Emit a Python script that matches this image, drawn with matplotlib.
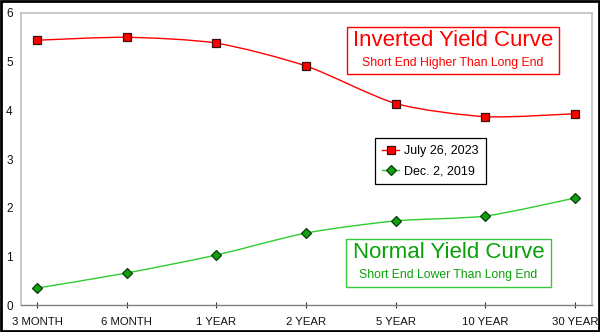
import matplotlib
matplotlib.use("Agg")
import matplotlib.pyplot as plt
from matplotlib.path import Path
from matplotlib.patches import PathPatch, Rectangle
import numpy as np

plt.rcParams['font.family'] = ['Liberation Sans', 'DejaVu Sans']

maturities = ['3 MONTH', '6 MONTH', '1 YEAR', '2 YEAR', '5 YEAR', '10 YEAR', '30 YEAR']
jul_2023 = [5.44, 5.50, 5.38, 4.91, 4.14, 3.87, 3.93]
dec_2019 = [0.35, 0.66, 1.03, 1.48, 1.73, 1.83, 2.20]

RED = '#ff0000'
GREEN_LINE = '#2fcc2f'
GREEN_TEXT = '#0aa00a'


def smooth_path(xs, ys, k=8.0):
    # Catmull-Rom style segments as cubic Bezier pieces (k sets the tension)
    pts = np.column_stack([xs, ys]).astype(float)
    verts = [pts[0]]
    codes = [Path.MOVETO]
    n = len(pts)
    for i in range(n - 1):
        p0 = pts[i - 1] if i > 0 else pts[i]
        p1 = pts[i]
        p2 = pts[i + 1]
        p3 = pts[i + 2] if i + 2 < n else pts[i + 1]
        c1 = p1 + (p2 - p0) / k
        c2 = p2 - (p3 - p1) / k
        verts += [c1, c2, p2]
        codes += [Path.CURVE4] * 3
    return Path(verts, codes)


fig = plt.figure(figsize=(6.0, 3.32), dpi=100)
ax = fig.add_axes([0.035, 0.081, 0.952, 0.880])

x = np.arange(len(maturities))

ax.add_patch(PathPatch(smooth_path(x, jul_2023), fill=False, edgecolor=RED, lw=1.0, zorder=2))
ax.add_patch(PathPatch(smooth_path(x, dec_2019), fill=False, edgecolor=GREEN_LINE, lw=1.0, zorder=2))

ax.plot(x, jul_2023, ls='none', marker='s', ms=6.3, mfc=RED, mec='#3a1010', mew=0.9, zorder=3)
ax.plot(x, dec_2019, ls='none', marker='D', ms=5.0, mfc='#10a010', mec='#0a3a0a', mew=0.9, zorder=3)

ax.set_xlim(-0.18, 6.19)
ax.set_ylim(0, 6)
ax.set_xticks(x)
ax.set_xticklabels(maturities)
ax.set_yticks(range(7))
ax.tick_params(axis='x', direction='inout', length=5, width=0.8, color='#333333',
               labelsize=8.2, pad=6, labelcolor='#111111')
ax.tick_params(axis='y', length=0, labelsize=8.5, pad=6, labelcolor='#111111')

for side in ('left', 'top', 'right'):
    ax.spines[side].set_color('#c0c0c0')
    ax.spines[side].set_linewidth(1.2)
ax.spines['bottom'].set_color('#808080')
ax.spines['bottom'].set_linewidth(1.0)

# Legend drawn with proxy handles
l1, = ax.plot([], [], color=RED, lw=1.0, marker='s', ms=6.3, mfc=RED, mec='#3a1010', mew=0.9)
l2, = ax.plot([], [], color=GREEN_LINE, lw=1.0, marker='D', ms=5.0, mfc='#10a010', mec='#0a3a0a', mew=0.9)
leg = ax.legend([l1, l2], ['July 26, 2023', 'Dec. 2, 2019'],
                loc='upper left', bbox_to_anchor=(375 / 600, 1 - 138 / 332),
                bbox_transform=fig.transFigure, fancybox=False, framealpha=1,
                edgecolor='#000000', fontsize=9, handlelength=1.4, handletextpad=0.4,
                borderpad=0.55, labelspacing=0.65, borderaxespad=0)
leg.get_frame().set_linewidth(0.9)

# Annotation boxes
def label_box(x0, y0, x1, y1, title, sub, color, edge):
    fig.patches.append(Rectangle((x0 / 600, 1 - y1 / 332), (x1 - x0) / 600, (y1 - y0) / 332,
                                 transform=fig.transFigure, fill=True, facecolor='white',
                                 edgecolor=edge, lw=1.0, zorder=5))
    cx = (x0 + x1) / 2 / 600
    fig.text(cx, 1 - (y0 + 14) / 332, title, color=color, fontsize=16,
             ha='center', va='center', zorder=6)
    fig.text(cx, 1 - (y0 + 36) / 332, sub, color=color, fontsize=8.8,
             ha='center', va='center', zorder=6)


label_box(347, 27, 559, 74, 'Inverted Yield Curve', 'Short End Higher Than Long End', RED, RED)
label_box(346, 239, 551, 287, 'Normal Yield Curve', 'Short End Lower Than Long End', GREEN_TEXT, '#3ac63a')

# outer frame
fig.patches.append(Rectangle((0.0015, 0.003), 0.997, 0.994, transform=fig.transFigure,
                             fill=False, edgecolor='#000000', lw=2.0, zorder=10))

fig.savefig('out.png', dpi=100)
